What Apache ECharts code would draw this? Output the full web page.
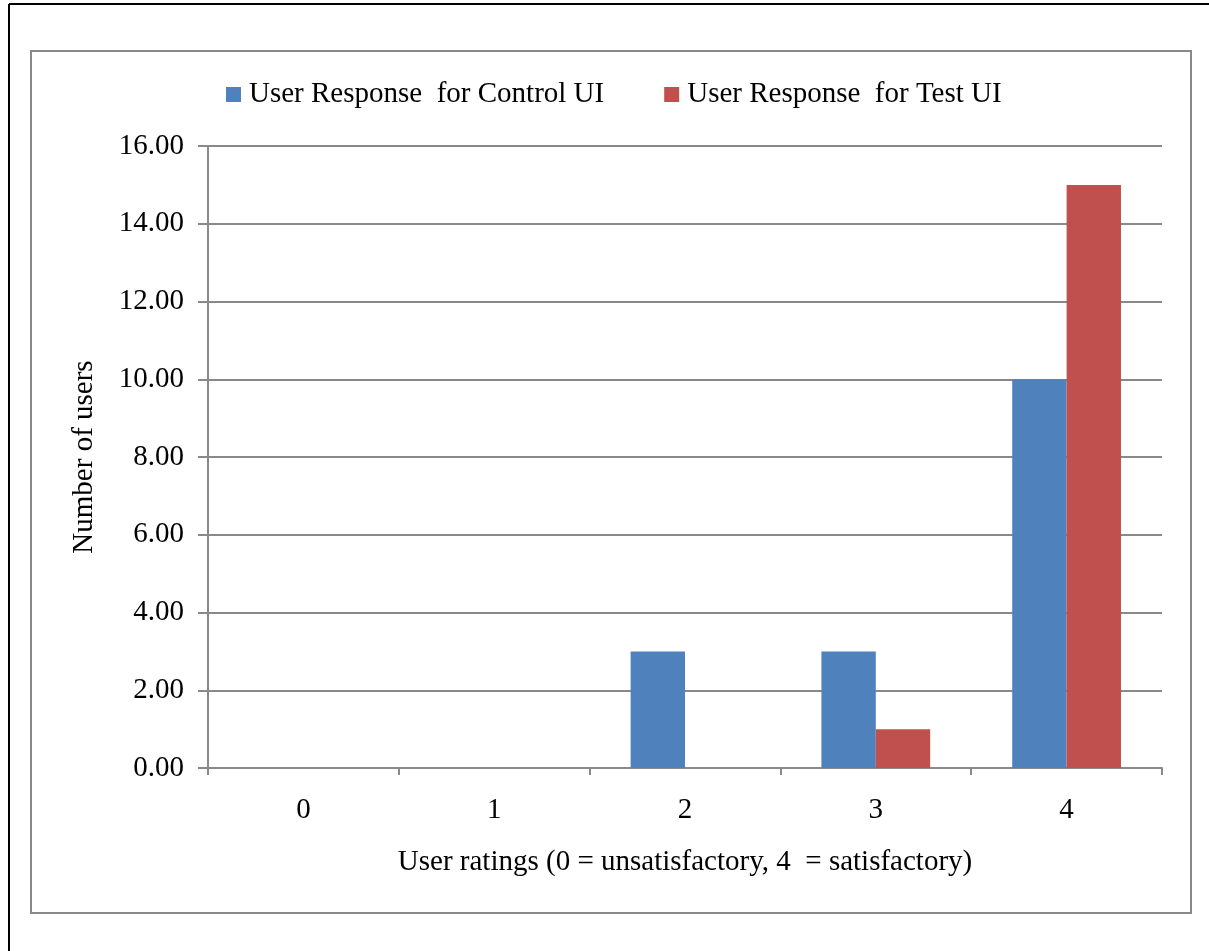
<!DOCTYPE html>
<html>
<head>
<meta charset="utf-8">
<script src="https://cdn.jsdelivr.net/npm/echarts@6/dist/echarts.min.js"></script>
<style>
  html, body { margin: 0; padding: 0; background: #fff; }
  #chart { width: 1209px; height: 951px; }
</style>
</head>
<body>
<div id="chart"></div>
<script>
// Ratings and user counts
const ratings = ['0', '1', '2', '3', '4'];
const controlUsers = [0, 0, 3, 3, 10];
const testUsers = [0, 0, 0, 1, 15];
const seriesNames = ['User Response  for Control UI', 'User Response  for Test UI'];

const FONT = '"Liberation Serif", "Times New Roman", serif';
const FONT_SIZE = 29;
const GRID_GRAY = '#898989';

const chart = echarts.init(document.getElementById('chart'), null, { renderer: 'canvas' });

chart.setOption({
  backgroundColor: '#fff',
  animation: false,
  textStyle: { fontFamily: FONT, color: '#000' },
  graphic: [
    // frame around the whole figure (top and left edges)
    { type: 'line', shape: { x1: 9, y1: 4, x2: 1209, y2: 4 }, style: { stroke: '#000', lineWidth: 2 } },
    { type: 'line', shape: { x1: 9, y1: 4, x2: 9, y2: 951 }, style: { stroke: '#000', lineWidth: 2 } },
    // chart area border
    { type: 'rect', shape: { x: 31, y: 51, width: 1160, height: 862 }, style: { fill: 'none', stroke: GRID_GRAY, lineWidth: 2 }, z: 0 }
  ],
  legend: {
    data: seriesNames,
    left: 221,
    top: 75,
    itemWidth: 15,
    itemHeight: 15,
    itemGap: 60,
    icon: 'rect',
    textStyle: { fontFamily: FONT, fontSize: FONT_SIZE, color: '#000', padding: [0, 0, 0, 3] }
  },
  grid: { left: 208, right: 47, top: 146, bottom: 183, containLabel: false },
  xAxis: {
    type: 'category',
    data: ratings,
    name: 'User ratings (0 = unsatisfactory, 4  = satisfactory)',
    nameLocation: 'middle',
    nameGap: 80,
    nameTextStyle: { fontFamily: FONT, fontSize: FONT_SIZE, color: '#000' },
    axisLine: { lineStyle: { color: GRID_GRAY, width: 2 } },
    axisTick: { show: true, length: 7, inside: false, lineStyle: { color: GRID_GRAY, width: 2 } },
    axisLabel: { fontFamily: FONT, fontSize: FONT_SIZE, color: '#000', margin: 28 },
    splitLine: { show: false }
  },
  yAxis: {
    type: 'value',
    min: 0,
    max: 16,
    interval: 2,
    name: 'Number of users',
    nameLocation: 'middle',
    nameGap: 109,
    nameTextStyle: { fontFamily: FONT, fontSize: FONT_SIZE, color: '#000' },
    axisLine: { show: true, lineStyle: { color: GRID_GRAY, width: 2 } },
    axisTick: { show: true, length: 10, lineStyle: { color: GRID_GRAY, width: 2 } },
    axisLabel: { fontFamily: FONT, fontSize: FONT_SIZE, color: '#000', margin: 24, formatter: v => v.toFixed(2) },
    splitLine: { show: true, lineStyle: { color: GRID_GRAY, width: 2 } }
  },
  series: [
    {
      name: seriesNames[0],
      type: 'bar',
      data: controlUsers,
      itemStyle: { color: '#4F81BD' },
      barGap: '0%',
      barCategoryGap: '43%'
    },
    {
      name: seriesNames[1],
      type: 'bar',
      data: testUsers,
      itemStyle: { color: '#C0504D' },
      barGap: '0%',
      barCategoryGap: '43%'
    }
  ]
});
</script>
</body>
</html>
